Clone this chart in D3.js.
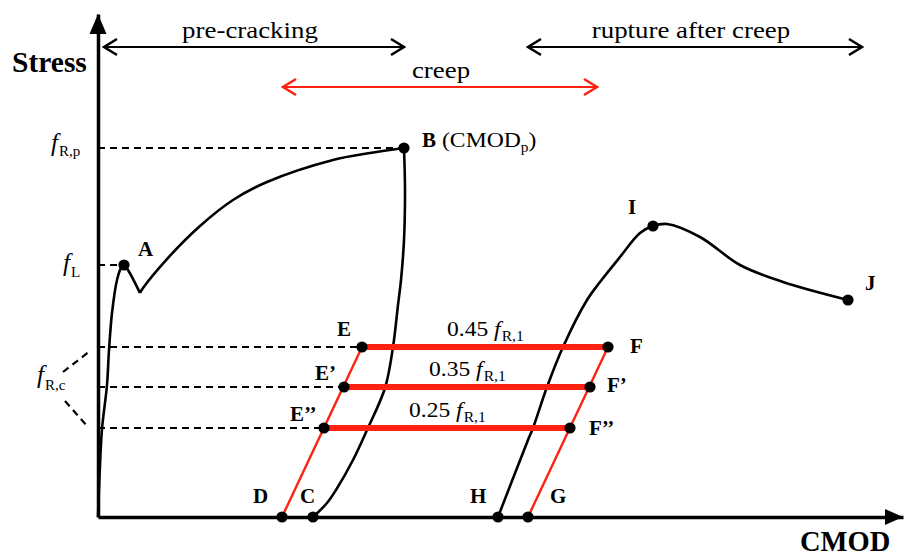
<!DOCTYPE html>
<html><head><meta charset="utf-8">
<script src="https://cdn.jsdelivr.net/npm/d3@7"></script>
<style>body{margin:0;background:#fff}svg{display:block}svg text, svg tspan{font-family:"Times New Roman","Liberation Serif",Tinos,"Nimbus Roman","DejaVu Serif",serif}</style>
</head><body>
<svg id="c" width="905" height="556"></svg>
<script>
// ---- data (CMOD units, stress units) ----
const loadRise = [[0,0],[1.5,40],[4,88],[9,132],[11,167],[14,204],[19,237],[23,249],[26,252]];
const loadDrop = [[26,252],[30,247],[42,224]];
const loadHarden = [[42,224],[45,229],[69,258],[102,291],[135,317],[169,335],[235,357],[272,364],[306,369]];
const unloadCurve = [[306,369],[307,327],[306,277],[303,237],[300,212],[295,170],[287,129],[269,87],[255,57],[238,27],[229,14],[215,0]];
const reloadCurve = [[400,0],[430,77],[435,89],[449,130],[465,170],[489,217],[502,235],[522,260],[542,284],[555,291],[569,293],[602,280],[642,252],[685,235],[750,217]];
const creepLevels = [170,130,89];
const creepStartX = [264,246,226];
const creepEndX = [510,492,472];
const creepFactors = ["0.45","0.35","0.25"];
const creepStartNames = ["E","E’","E’’"];
const creepEndNames = ["F","F’","F’’"];
const unloadLine = [[184,0],[264,170]];   // D -> E
const reloadLine = [[430,0],[510,170]];   // G -> F
const pointNames = ["A","B","C","D","G","H","I","J"];
const pointX = [26,306,215,184,430,400,555,750];
const pointY = [252,369,0,0,0,0,291,217];
const fRp = 369, fL = 252;
const phases = [{name:"pre-cracking",from:6,to:306,y:470},{name:"rupture after creep",from:430,to:764,y:470}];
const creepPhase = {name:"creep",from:185,to:499,y:430};

// ---- scales ----
const xs = d3.scaleLinear().domain([0,805]).range([98,903]);
const ys = d3.scaleLinear().domain([0,503]).range([517,14]);
const svg = d3.select("#c");
const RED = "#fe2212";
const SX = 1.12;
const FONT = "'Times New Roman','Liberation Serif',Tinos,'Nimbus Roman','DejaVu Serif',serif";

const defs = svg.append("defs");
function marker(id,color){
  defs.append("marker").attr("id",id).attr("markerUnits","userSpaceOnUse")
    .attr("viewBox","-16 -10 18 20").attr("refX",0).attr("refY",0)
    .attr("markerWidth",18).attr("markerHeight",20).attr("orient","auto-start-reverse")
    .append("path").attr("d","M-13,-8L0,0L-13,8").attr("fill","none").attr("stroke",color).attr("stroke-width",2.6);
}
marker("ak","#000"); marker("ar",RED);

// ---- axes ----
const gx = svg.append("g").attr("transform",`translate(0,${ys(0)})`)
  .call(d3.axisBottom(xs).tickValues([]).tickSizeOuter(0));
const gy = svg.append("g").attr("transform",`translate(${xs(0)},0)`)
  .call(d3.axisLeft(ys).tickValues([]).tickSizeOuter(0));
[gx,gy].forEach(g=>g.select(".domain").attr("stroke","#000").attr("stroke-width",3.5));
svg.append("path").attr("d",`M${xs(0)},${ys(503)}L${xs(0)-8.5},${ys(503)+20}L${xs(0)+8.5},${ys(503)+20}Z`).attr("fill","#000");
svg.append("path").attr("d",`M${xs(805)},${ys(0)}L${xs(805)-18},${ys(0)-8}L${xs(805)-18},${ys(0)+8}Z`).attr("fill","#000");

// ---- dashed reference lines ----
const dash = svg.append("g").attr("stroke","#000").attr("stroke-width",2.2).attr("stroke-dasharray","7,5");
dash.append("line").attr("x1",xs(0)).attr("x2",xs(306)).attr("y1",ys(fRp)).attr("y2",ys(fRp));
dash.append("line").attr("x1",xs(0)).attr("x2",xs(26)).attr("y1",ys(fL)).attr("y2",ys(fL));
creepLevels.forEach((v,i)=>dash.append("line").attr("x1",xs(0)).attr("x2",xs(creepStartX[i])).attr("y1",ys(v)).attr("y2",ys(v)));
dash.append("line").attr("x1",63).attr("y1",372).attr("x2",90).attr("y2",351);
dash.append("line").attr("x1",65).attr("y1",401).attr("x2",88).attr("y2",427);

// ---- curves ----
const line = d3.line().x(d=>xs(d[0])).y(d=>ys(d[1])).curve(d3.curveCatmullRom.alpha(0.5));
const lin = d3.line().x(d=>xs(d[0])).y(d=>ys(d[1]));
[loadRise,loadDrop,loadHarden,unloadCurve,reloadCurve].forEach(c=>
  svg.append("path").attr("d",line(c)).attr("fill","none").attr("stroke","#000").attr("stroke-width",2.6).attr("stroke-linejoin","round"));

[unloadLine,reloadLine].forEach(c=>svg.append("path").attr("d",lin(c)).attr("fill","none").attr("stroke",RED).attr("stroke-width",2.4));
creepLevels.forEach((v,i)=>svg.append("line").attr("x1",xs(creepStartX[i])).attr("x2",xs(creepEndX[i]))
  .attr("y1",ys(v)).attr("y2",ys(v)).attr("stroke",RED).attr("stroke-width",6));

// ---- dots ----
const dots = [];
pointNames.forEach((n,i)=>dots.push([pointX[i],pointY[i]]));
creepLevels.forEach((v,i)=>{dots.push([creepStartX[i],v]);dots.push([creepEndX[i],v]);});
svg.append("g").selectAll("circle").data(dots).join("circle")
  .attr("cx",d=>xs(d[0])).attr("cy",d=>ys(d[1])).attr("r",5.6).attr("fill","#000");

// ---- phase arrows ----
phases.forEach(p=>svg.append("line").attr("x1",xs(p.from)).attr("x2",xs(p.to)).attr("y1",ys(p.y)).attr("y2",ys(p.y))
  .attr("stroke","#000").attr("stroke-width",1.8).attr("marker-start","url(#ak)").attr("marker-end","url(#ak)"));
svg.append("line").attr("x1",xs(creepPhase.from)).attr("x2",xs(creepPhase.to)).attr("y1",ys(creepPhase.y)).attr("y2",ys(creepPhase.y))
  .attr("stroke",RED).attr("stroke-width",1.8).attr("marker-start","url(#ar)").attr("marker-end","url(#ar)");

// ---- text helper ----
function txt(x,y,parts,opt={}){
  const t = svg.append("text").attr("transform",`translate(${x},${y}) scale(${opt.sx||1},1)`)
    .attr("font-family",FONT).style("font-family",FONT)
    .attr("text-anchor",opt.anchor||"start").attr("font-size",opt.size||22).attr("fill","#000");
  parts.forEach(p=>{
    const s = t.append("tspan").text(p.t).style("font-family",FONT);
    if(p.size) s.attr("font-size",p.size);
    s.attr("font-weight",p.b?"bold":"normal");
    s.attr("font-style",p.i?"italic":"normal");
    if(p.dy) s.attr("dy",p.dy);
    if(p.dx) s.attr("dx",p.dx);
  });
  return t;
}
phases.forEach(p=>txt((xs(p.from)+xs(p.to))/2-4,38,[{t:p.name}],{anchor:"middle",size:24,sx:SX}));
txt((xs(creepPhase.from)+xs(creepPhase.to))/2+1,78,[{t:creepPhase.name}],{anchor:"middle",size:24,sx:SX});
txt(12,72,[{t:"Stress",b:true}],{size:29.5});
txt(800,551,[{t:"CMOD",b:true}],{size:28.5});

// y-axis level labels
txt(51,151,[{t:"f",i:true},{t:"R,p",size:15,dy:5,dx:1}],{size:25});
txt(63,271,[{t:"f",i:true},{t:"L",size:15,dy:6,dx:1}],{size:25});
txt(37,383,[{t:"f",i:true},{t:"R,c",size:15,dy:7,dx:1}],{size:25});

// point labels (bold)
const lab = {A:[138,256],B:[422,147],C:[300,503],D:[253,503],G:[550,503],H:[470,503],I:[628,214],J:[865,290]};
pointNames.forEach(n=>txt(lab[n][0],lab[n][1],[{t:n,b:true}],{size:21}));
txt(442,147,[{t:"(CMOD"},{t:"p",size:14,dy:5},{t:")",dy:-5}],{size:21.5,sx:1.1});
const labS = [[337,336],[315,380],[290,421]];
const labE = [[630,353],[607,392],[589,435]];
creepLevels.forEach((v,i)=>{
  txt(labS[i][0],labS[i][1],[{t:creepStartNames[i],b:true}],{size:21});
  txt(labE[i][0],labE[i][1],[{t:creepEndNames[i],b:true}],{size:21});
});
const labV = [[447,336],[429,376],[409,417]];
creepFactors.forEach((f,i)=>txt(labV[i][0],labV[i][1],[{t:f+" "},{t:"f",i:true},{t:"R,1",size:14,dy:5,dx:1}],{size:21,sx:SX}));
</script>
</body></html>
